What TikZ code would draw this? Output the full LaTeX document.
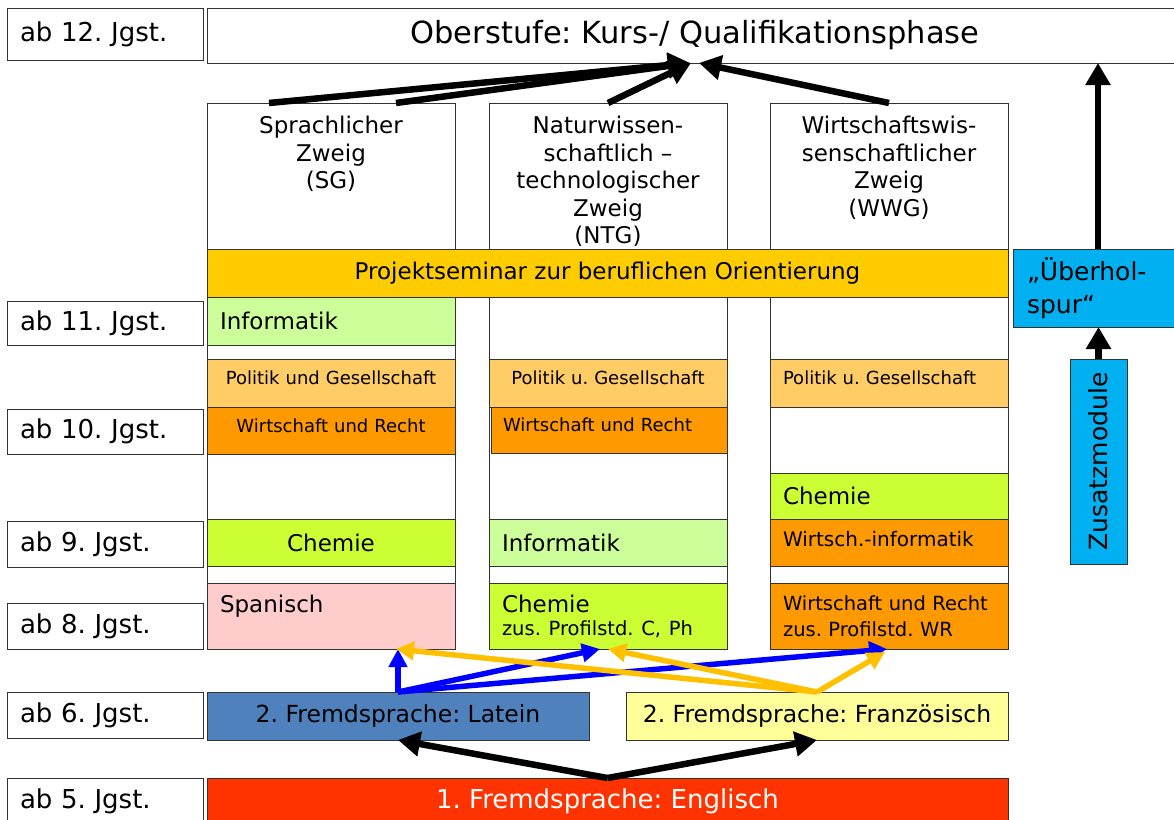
\documentclass[tikz,border=0pt]{standalone}
\usepackage{fontspec}
\setmainfont{DejaVu Sans}
\usepackage{tikz}
\usetikzlibrary{positioning, arrows.meta}
\frenchspacing
\definecolor{projektgelb}{HTML}{FFCC00}
\definecolor{ueberholblau}{HTML}{00B0F0}
\definecolor{infogruen}{HTML}{CCFF99}
\definecolor{politikorange}{HTML}{FFCC66}
\definecolor{wrorange}{HTML}{FF9900}
\definecolor{chemiegruen}{HTML}{CCFF33}
\definecolor{spanischrosa}{HTML}{FFCCCC}
\definecolor{lateinblau}{HTML}{4F81BD}
\definecolor{franzgelb}{HTML}{FFFF99}
\definecolor{englischrot}{HTML}{FF3300}
\definecolor{pfeilblau}{HTML}{0000FF}
\definecolor{pfeilgelb}{HTML}{FFC000}
\tikzstyle{feld} = [rectangle, draw=black!80, line width=0.9pt, inner sep=0pt, outer sep=0pt, anchor=north west]
\tikzstyle{jgst} = [feld, minimum width=196pt, minimum height=46pt, text width=170pt, align=left, font=\fontsize{26}{30}\selectfont]
\tikzstyle{zweig} = [feld, fill=white, minimum height=480pt]
\tikzstyle{kopf} = [anchor=north, align=center, inner sep=0pt, font=\fontsize{23}{27.5}\selectfont]
\tikzstyle{gross} = [font=\fontsize{23}{27}\selectfont]
\tikzstyle{klein} = [font=\fontsize{18}{25}\selectfont]
\tikzstyle{sgfach} = [feld, minimum width=248pt, text width=222pt]
\tikzstyle{fach} = [feld, minimum width=238pt, text width=212pt]
\tikzstyle{sprache} = [feld, minimum width=382pt, minimum height=48pt, font=\fontsize{23.5}{28}\selectfont]
\tikzstyle{pfeil} = [line width=6.5pt, -{Triangle[length=22pt, width=24pt]}]
\tikzstyle{wahlpfeil} = [line width=5.5pt, -{Triangle[length=18pt, width=18pt]}]

\begin{document}
\begin{tikzpicture}[x=1pt, y=-1pt]
  \fill [white] (0,0) rectangle (1174,819);
  \useasboundingbox (0,0) rectangle (1174,819);
  % Jahrgangsstufen
  \node (j12) [jgst, minimum height=52pt] at (7,8) {ab 12. Jgst.};
  \node (j11) [jgst, minimum height=44pt] at (7,301) {ab 11. Jgst.};
  \node (j10) [jgst, minimum height=45pt] at (7,409) {ab 10. Jgst.};
  \node (j9) [jgst] at (7,521) {ab 9. Jgst.};
  \node (j8) [jgst] at (7,603) {ab 8. Jgst.};
  \node (j6) [jgst] at (7,692) {ab 6. Jgst.};
  \node (j5) [jgst] at (7,778) {ab 5. Jgst.};
  % Oberstufe
  \node (ober) [feld, minimum width=976pt, minimum height=55pt, font=\fontsize{30.5}{36}\selectfont] at (207,8)
    {Oberstufe: Kurs-/ Qualifikationsphase};
  % Zweige
  \node (sg) [zweig, minimum width=248pt] at (207,103) {};
  \node (ntg) [zweig, minimum width=238pt] at (489,103) {};
  \node (wwg) [zweig, minimum width=238pt] at (770,103) {};
  \node (sgkopf) [kopf, below=13pt of sg.north] {Sprachlicher\\Zweig\\(SG)};
  \node (ntgkopf) [kopf, below=13pt of ntg.north] {Naturwissen-\\schaftlich –\\technologischer\\Zweig\\(NTG)};
  \node (wwgkopf) [kopf, below=13pt of wwg.north] {Wirtschaftswis-\\senschaftlicher\\Zweig\\(WWG)};
  \node (projekt) [feld, fill=projektgelb, minimum width=801pt, minimum height=48pt, gross] at (207,249)
    {Projektseminar zur beruflichen Orientierung};
  \node (ueberhol) [feld, fill=ueberholblau, minimum width=170pt, minimum height=78pt, text width=142pt, align=left,
    font=\fontsize{25}{33}\selectfont] at (1013,249) {„Überhol-\\spur“};
  \node (zusatz) [feld, anchor=center, fill=ueberholblau, rotate=90, minimum width=205pt, minimum height=57pt,
    font=\fontsize{25}{30}\selectfont] at (1098.5,461.5) {Zusatzmodule};
  % SG
  \node (sginfo) [sgfach, fill=infogruen, minimum height=48pt, align=left, gross] at (207,297) {Informatik};
  \node (sgpol) [sgfach, fill=politikorange, minimum height=48pt, align=center, klein, text depth=10pt] at (207,359) {Politik und Gesellschaft};
  \node (sgwr) [sgfach, fill=wrorange, minimum height=47pt, align=center, klein, text depth=10pt] at (207,407) {Wirtschaft und Recht};
  \node (sgchem) [sgfach, fill=chemiegruen, minimum height=47pt, align=center, gross] at (207,519) {Chemie};
  \node (spanisch) [sgfach, fill=spanischrosa, minimum height=66pt, align=left, gross, text height=17pt, text depth=25pt]
    at (207,583) {Spanisch};
  % NTG
  \node (ntgpol) [fach, fill=politikorange, minimum height=48pt, align=center, klein, text depth=10pt] at (489,359) {Politik u. Gesellschaft};
  \node (ntgwr) [fach, fill=wrorange, minimum width=236pt, minimum height=46pt, align=left, klein, text depth=10pt] at (491,407) {Wirtschaft und Recht};
  \node (ntginfo) [fach, fill=infogruen, minimum height=47pt, align=left, gross] at (489,519) {Informatik};
  \node (ntgchem) [fach, fill=chemiegruen, minimum height=66pt, align=left, gross] at (489,583)
    {Chemie\\[-4pt]{\fontsize{19.5}{24}\selectfont zus. Profilstd. C, Ph}};
  % WWG
  \node (wwgpol) [fach, fill=politikorange, minimum height=48pt, align=left, klein, text depth=10pt] at (770,359) {Politik u. Gesellschaft};
  \node (wwgchem) [fach, fill=chemiegruen, minimum height=46pt, align=left, gross] at (770,473) {Chemie};
  \node (wwginfo) [fach, fill=wrorange, minimum height=47pt, align=left, font=\fontsize{20}{24}\selectfont, text depth=8pt] at (770,519)
    {Wirtsch.-informatik};
  \node (wwgwr) [fach, fill=wrorange, minimum height=66pt, align=left, font=\fontsize{19.5}{26}\selectfont] at (770,583)
    {Wirtschaft und Recht\\zus. Profilstd. WR};
  % Fremdsprachen
  \node (latein) [sprache, fill=lateinblau] at (207,692) {2. Fremdsprache: Latein};
  \node (franz) [sprache, fill=franzgelb] at (626,692) {2. Fremdsprache: Französisch};
  \node (englisch) [feld, fill=englischrot, minimum width=801pt, minimum height=46pt, text=white,
    font=\fontsize{26}{30}\selectfont] at (207,778) {1. Fremdsprache: Englisch};
  % Pfeile
  \draw [pfeil] ([xshift=-62pt]sg.north) -- ([xshift=-5pt]ober.south);
  \draw [pfeil] ([xshift=65pt]sg.north) -- ([xshift=-5pt]ober.south);
  \draw [pfeil] (ntg.north) -- ([xshift=-4pt]ober.south);
  \draw [pfeil] (wwg.north) -- ([xshift=4pt]ober.south);
  \draw [pfeil] (ueberhol.north) -- (ueberhol.north |- ober.south);
  \draw [pfeil] (zusatz.east) -- (zusatz.east |- ueberhol.south);
  \draw [pfeil] (englisch.north) -- (latein.south);
  \draw [pfeil] (englisch.north) -- (franz.south);
  \draw [wahlpfeil, pfeilblau] (latein.north) -- (latein.north |- spanisch.south);
  \draw [wahlpfeil, pfeilblau] (latein.north) -- ([xshift=-8pt]ntgchem.south);
  \draw [wahlpfeil, pfeilblau] (latein.north) -- ([xshift=-2pt]wwgwr.south);
  \draw [wahlpfeil, pfeilgelb] (franz.north) -- ([xshift=-2pt]latein.north |- spanisch.south);
  \draw [wahlpfeil, pfeilgelb] (franz.north) -- (ntgchem.south);
  \draw [wahlpfeil, pfeilgelb] (franz.north) -- ([xshift=-4pt,yshift=-3pt]wwgwr.south);
\end{tikzpicture}
\end{document}
